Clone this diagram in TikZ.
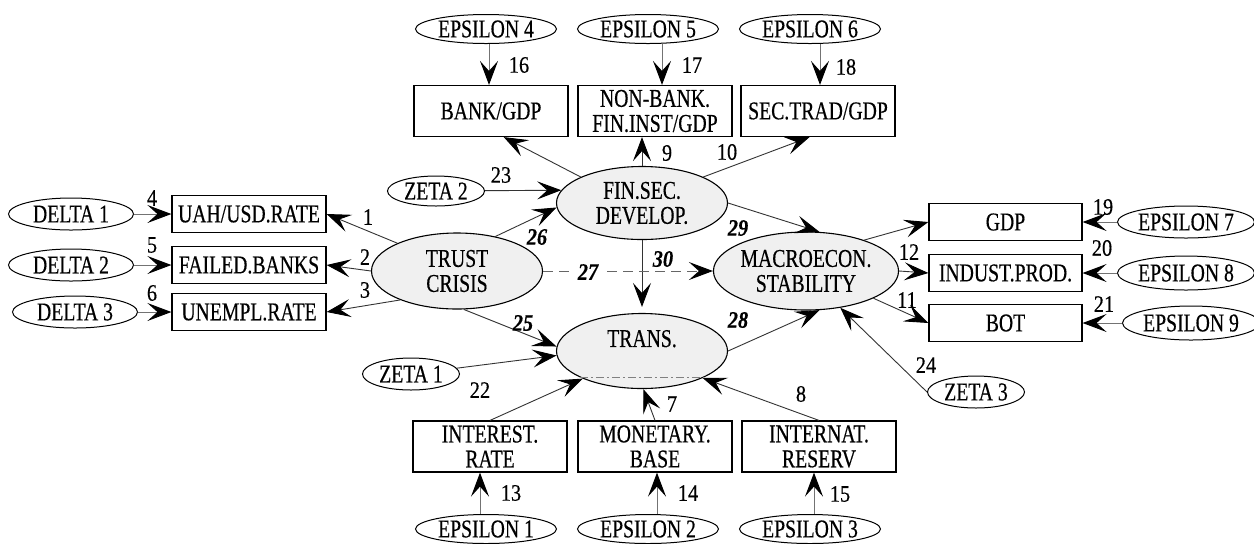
\documentclass[tikz,border=0pt]{standalone}
\usepackage{fontspec}
\setmainfont{Liberation Serif}[FakeStretch=0.77, FakeBold=0.4]
\newfontfamily\numfont{Liberation Serif}[FakeStretch=0.86, FakeBold=0.3]
\usetikzlibrary{arrows.meta,shapes.geometric}

\begin{document}
\begin{tikzpicture}[x=0.5pt,y=-0.5pt,
  every node/.style={inner sep=0pt, font=\fontsize{12.8}{12.5}\selectfont},
  box/.style={draw, line width=0.6pt, rectangle, minimum width=77pt, minimum height=18.5pt, align=center},
  tallbox/.style={box, minimum height=25.5pt},
  latent/.style={draw, ellipse, line width=0.55pt, fill=black!6, align=center, minimum width=85.5pt, minimum height=37.5pt},
  noise/.style={draw, ellipse, line width=0.5pt, minimum width=70.5pt, minimum height=14.5pt},
  side/.style={noise, minimum width=62.5pt, minimum height=16pt},
  zeta/.style={noise, minimum width=48.5pt, minimum height=16pt},
  num/.style={font=\numfont\fontsize{11.8}{12}\selectfont},
  bnum/.style={font=\numfont\fontsize{11.8}{12}\selectfont\bfseries\itshape},
  tip/.tip={Stealth[length=12pt, width=9pt, inset=5pt, color=black]},
  arr/.style={draw=black!80, line width=0.45pt, -tip},
  arrg/.style={draw=black!55, line width=0.5pt, -tip},
  arrdash/.style={draw=black!60, line width=0.5pt, dash pattern=on 5pt off 3pt, -tip}
]
\clip (0,0) rectangle (1254,543);
\fill[white] (0,0) rectangle (1254,543);

% latent constructs
\node[latent, minimum height=38pt] (T) at (457,271) {TRUST\\CRISIS};
\node[latent, minimum height=36.5pt] (F) at (642,203) {FIN.SEC.\\DEVELOP.};
\node[latent] (R) at (642,351) {TRANS.\\\mbox{}};
\node[latent, minimum width=92.5pt, minimum height=39pt] (M) at (806,271) {MACROECON.\\STABILITY};

% indicators of trust crisis
\node[box] (uah) at (249,214) {UAH/USD.RATE};
\node[box] (fail) at (249,265) {FAILED.BANKS};
\node[box] (unem) at (249,312) {UNEMPL.RATE};
\node[side] (d1) at (71,214) {DELTA 1};
\node[side] (d2) at (71,265) {DELTA 2};
\node[side] (d3) at (75,312) {DELTA 3};

% indicators of financial sector development
\node[tallbox] (bank) at (491,111) {BANK/GDP};
\node[tallbox] (nbfi) at (655,111) {NON-BANK.\\FIN.INST/GDP};
\node[tallbox] (sect) at (818,111) {SEC.TRAD/GDP};
\node[noise] (e4) at (486,29) {EPSILON 4};
\node[noise] (e5) at (648,29) {EPSILON 5};
\node[noise] (e6) at (810,29) {EPSILON 6};

% indicators of transmission
\node[tallbox] (irate) at (490,446.5) {INTEREST.\\RATE};
\node[tallbox] (mbase) at (655,446.5) {MONETARY.\\BASE};
\node[tallbox] (resv) at (819,446.5) {INTERNAT.\\RESERV};
\node[noise] (e1) at (486,529) {EPSILON 1};
\node[noise] (e2) at (648,529) {EPSILON 2};
\node[noise] (e3) at (810,529) {EPSILON 3};

% indicators of macroeconomic stability
\node[box, minimum width=76.5pt] (gdp) at (1005.5,222) {GDP};
\node[box, minimum width=76.5pt] (ind) at (1005.5,273) {INDUST.PROD.};
\node[box, minimum width=76.5pt] (bot) at (1005.5,323) {BOT};
\node[noise, minimum width=68.5pt, minimum height=16pt] (e7) at (1186,222) {EPSILON 7};
\node[noise, minimum width=68.5pt, minimum height=17pt] (e8) at (1186,273) {EPSILON 8};
\node[noise, minimum width=68.5pt, minimum height=17pt] (e9) at (1191,323) {EPSILON 9};

% structural disturbances
\node[zeta] (z1) at (411,374) {ZETA 1};
\node[zeta, minimum height=15pt] (z2) at (436,191) {ZETA 2};
\node[zeta] (z3) at (976,392) {ZETA 3};

% measurement paths
\draw[arr] (T.155) -- (uah.east);
\draw[arr] (T.west) -- (fail.east);
\draw[arr] (T.207) -- (unem.east);
\draw[arrg] (d1) -- (uah);
\draw[arrg] (d2) -- (fail);
\draw[arrg] (d3) -- (unem);

\draw[arr] (F.157) -- (bank.-64);
\draw[arr] (F.north) -- (F.north |- nbfi.south);
\draw[arr] (F.23) -- (sect.-108);
\draw[arrg] ([xshift=1.5pt]e4.south) -- ([xshift=1.5pt]e4.south |- bank.north);
\draw[arrg] ([xshift=7pt]e5.south) -- ([xshift=7pt]e5.south |- nbfi.north);
\draw[arrg] ([xshift=5pt]e6.south) -- ([xshift=5pt]e6.south |- sect.north);

\draw[arr] (irate.north) -- (R.205);
\draw[arr] (mbase.north) -- (R.-88);
\draw[arr] (resv.north) -- (R.-24);
\draw[arrg] ([xshift=-3pt]e1.north) -- ([xshift=-3pt]e1.north |- irate.south);
\draw[arrg] ([xshift=4.5pt]e2.north) -- ([xshift=4.5pt]e2.north |- mbase.south);
\draw[arrg] ([xshift=2pt]e3.north) -- ([xshift=2pt]e3.north |- resv.south);

\draw[arr] (M.28) -- (gdp.west);
\draw[arr] (M.east) -- (ind.west);
\draw[arr] (M.-22) -- (bot.west);
\draw[arrg] (e7) -- (gdp);
\draw[arrg] (e8) -- (ind);
\draw[arrg] (e9) -- (bot);

% structural paths
\draw[arr] (z2) -- (F.171);
\draw[arr] (T.42) -- (F.183);
\draw[arr] (T.-80) -- (R.177);
\draw[arr] (z1) -- (R.183);
\draw[arr, shorten >=3pt] (F.south) -- (R.north);
\draw[arr] (F.east) -- (M.71);
\draw[arr] (R.east) -- (M.-71);
\draw[arr] (z3.west) -- (M.-47);
\draw[arrdash] (T.east) -- (M.west);
\draw[draw=black!50, line width=0.4pt, dash pattern=on 4pt off 1.5pt on 1pt off 1.5pt] (R.203) -- (R.-23);

% path numbers
\node[num] (l1) at (368,217) {1};
\node[num] (l2) at (365,257) {2};
\node[num] (l3) at (365,290) {3};
\node[num] (l4) at (152,198) {4};
\node[num] (l5) at (152,245) {5};
\node[num] (l6) at (152,293) {6};
\node[num] (l7) at (672,404) {7};
\node[num] (l8) at (801,394) {8};
\node[num] (l9) at (667,153) {9};
\node[num] (l10) at (727,152) {10};
\node[num] (l11) at (907,300) {11};
\node[num] (l12) at (909,252) {12};
\node[num] (l13) at (511,493) {13};
\node[num] (l14) at (688,493) {14};
\node[num] (l15) at (840,494) {15};
\node[num] (l16) at (519,65) {16};
\node[num] (l17) at (692,65) {17};
\node[num] (l18) at (846,67) {18};
\node[num] (l19) at (1103,207) {19};
\node[num] (l20) at (1102,248) {20};
\node[num] (l21) at (1104,304) {21};
\node[num] (l22) at (480,390) {22};
\node[num] (l23) at (501,175) {23};
\node[num] (l24) at (926,365) {24};
\node[bnum] (l25) at (523,323) {25};
\node[bnum] (l26) at (537,237) {26};
\node[bnum, fill=white, inner xsep=3pt] (l27) at (588,272) {27};
\node[bnum] (l28) at (738,320) {28};
\node[bnum] (l29) at (738,228) {29};
\node[bnum] (l30) at (663,259) {30};
\end{tikzpicture}
\end{document}
